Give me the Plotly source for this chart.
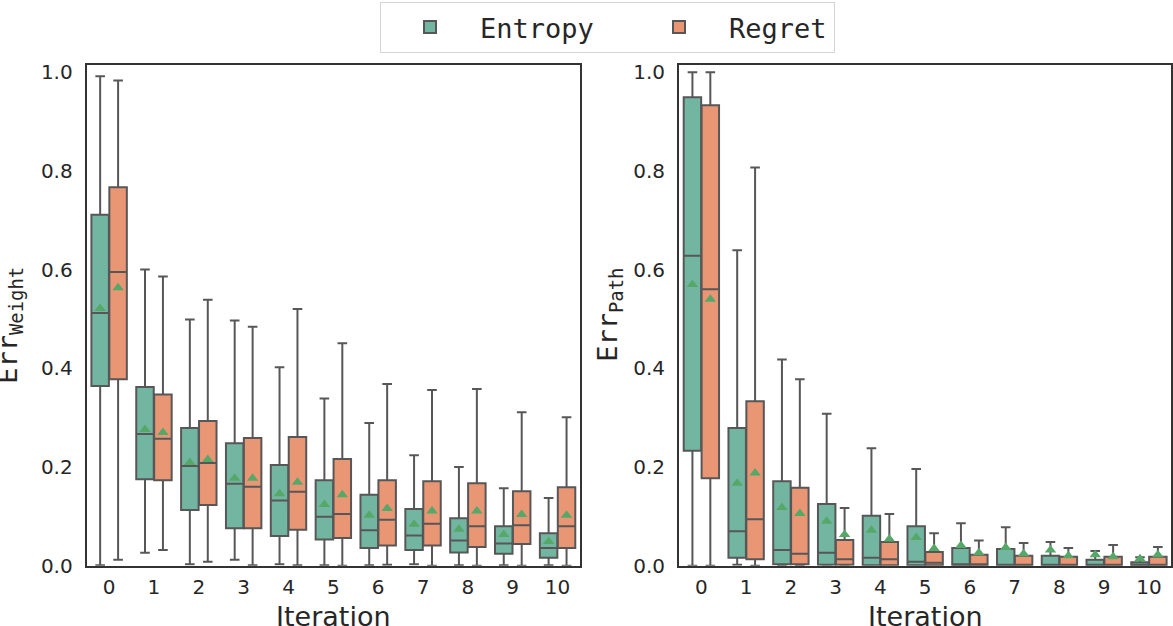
import plotly.graph_objects as go
from plotly.subplots import make_subplots

iterations = list(range(11))
hues = ["Entropy", "Regret"]

# Err_Weight (left panel)
w_ent_low = [0.001, 0.026, 0.003, 0.012, 0.003, 0.001, 0.001, 0.003, 0.001, 0.001, 0.001]
w_ent_q1 = [0.364, 0.175, 0.113, 0.076, 0.060, 0.053, 0.036, 0.032, 0.027, 0.024, 0.016]
w_ent_med = [0.512, 0.267, 0.202, 0.166, 0.132, 0.099, 0.072, 0.061, 0.051, 0.045, 0.036]
w_ent_q3 = [0.711, 0.362, 0.279, 0.248, 0.204, 0.173, 0.144, 0.115, 0.096, 0.080, 0.066]
w_ent_high = [0.992, 0.600, 0.499, 0.497, 0.402, 0.339, 0.289, 0.224, 0.200, 0.157, 0.137]
w_ent_mean = [0.521, 0.276, 0.209, 0.177, 0.146, 0.124, 0.102, 0.084, 0.074, 0.063, 0.049]

w_reg_low = [0.012, 0.032, 0.008, 0.001, 0.001, 0.0, 0.002, 0.0, 0.0, 0.0, 0.0]
w_reg_q1 = [0.378, 0.173, 0.123, 0.076, 0.073, 0.056, 0.041, 0.041, 0.038, 0.044, 0.036]
w_reg_med = [0.595, 0.257, 0.208, 0.160, 0.150, 0.105, 0.093, 0.085, 0.080, 0.082, 0.080]
w_reg_q3 = [0.767, 0.347, 0.293, 0.259, 0.261, 0.216, 0.173, 0.171, 0.167, 0.151, 0.159]
w_reg_high = [0.983, 0.586, 0.539, 0.484, 0.520, 0.451, 0.368, 0.356, 0.358, 0.311, 0.301]
w_reg_mean = [0.563, 0.270, 0.215, 0.177, 0.169, 0.144, 0.116, 0.111, 0.111, 0.104, 0.102]

# Err_Path (right panel)
p_ent_low = [0.0, 0.002, 0.001, 0.0, 0.0, 0.0, 0.0, 0.0, 0.0, 0.0, 0.0]
p_ent_q1 = [0.233, 0.016, 0.003, 0.002, 0.001, 0.001, 0.0, 0.0, 0.0, 0.0, 0.0]
p_ent_med = [0.628, 0.070, 0.032, 0.026, 0.016, 0.008, 0.003, 0.002, 0.001, 0.001, 0.001]
p_ent_q3 = [0.949, 0.279, 0.171, 0.125, 0.101, 0.080, 0.036, 0.034, 0.020, 0.012, 0.007]
p_ent_high = [1.0, 0.639, 0.418, 0.308, 0.238, 0.196, 0.086, 0.078, 0.048, 0.030, 0.017]
p_ent_mean = [0.570, 0.167, 0.118, 0.090, 0.072, 0.057, 0.041, 0.037, 0.032, 0.022, 0.014]

p_reg_low = [0.0, 0.0, 0.0, 0.0, 0.0, 0.0, 0.0, 0.0, 0.0, 0.0, 0.0]
p_reg_q1 = [0.177, 0.013, 0.003, 0.002, 0.001, 0.001, 0.0, 0.0, 0.0, 0.0, 0.0]
p_reg_med = [0.560, 0.094, 0.024, 0.013, 0.013, 0.006, 0.003, 0.002, 0.001, 0.001, 0.001]
p_reg_q3 = [0.933, 0.333, 0.158, 0.052, 0.048, 0.028, 0.022, 0.020, 0.018, 0.018, 0.018]
p_reg_high = [1.0, 0.807, 0.378, 0.117, 0.105, 0.066, 0.051, 0.046, 0.036, 0.042, 0.038]
p_reg_mean = [0.540, 0.188, 0.106, 0.063, 0.054, 0.035, 0.026, 0.024, 0.020, 0.018, 0.022]

panels = [
    {  # 左: Err_Weight
        "Entropy": (w_ent_low, w_ent_q1, w_ent_med, w_ent_q3, w_ent_high, w_ent_mean),
        "Regret": (w_reg_low, w_reg_q1, w_reg_med, w_reg_q3, w_reg_high, w_reg_mean),
    },
    {  # 右: Err_Path
        "Entropy": (p_ent_low, p_ent_q1, p_ent_med, p_ent_q3, p_ent_high, p_ent_mean),
        "Regret": (p_reg_low, p_reg_q1, p_reg_med, p_reg_q3, p_reg_high, p_reg_mean),
    },
]
y_titles = ["Err<sub>Weight</sub>", "Err<sub>Path</sub>"]
x_title = "Iteration"

W, H = 1173, 626
fill = {"Entropy": "#72b6a1", "Regret": "#e99675"}
offset = {"Entropy": -0.2, "Regret": 0.2}
legend_w = {"Entropy": 144, "Regret": 100}
line_gray = "#575757"
text_col = "#262626"

x_domains = [[86.7 / W, 580 / W], [679 / W, 1171.3 / W]]
y_domain = [1 - 565.7 / H, 1 - 65 / H]

fig = make_subplots(rows=1, cols=2)

for col, panel in enumerate(panels, start=1):
    for hue in hues:
        low, q1, med, q3, high, mean = panel[hue]
        xs = [i + offset[hue] for i in iterations]
        fig.add_trace(
            go.Box(
                x=xs,
                lowerfence=low,
                q1=q1,
                median=med,
                q3=q3,
                upperfence=high,
                width=0.39,
                whiskerwidth=0.55,
                fillcolor=fill[hue],
                line=dict(color=line_gray, width=2),
                boxpoints=False,
                name=hue,
                legendgroup=hue,
                legendwidth=legend_w[hue],
                showlegend=(col == 1),
            ),
            row=1,
            col=col,
        )
    # 平均値の三角マーカー
    for hue in hues:
        mean = panel[hue][5]
        xs = [i + offset[hue] for i in iterations]
        fig.add_trace(
            go.Scatter(
                x=xs,
                y=mean,
                mode="markers",
                marker=dict(symbol="triangle-up", size=10, color="#55a868"),
                showlegend=False,
                hoverinfo="skip",
            ),
            row=1,
            col=col,
        )

axis_common = dict(
    showline=True,
    mirror=True,
    linecolor="#333333",
    linewidth=2,
    showgrid=False,
    zeroline=False,
    ticks="",
    tickfont=dict(family="DejaVu Sans", size=20, color=text_col),
    automargin=False,
)

for col in (1, 2):
    fig.update_xaxes(
        axis_common,
        domain=x_domains[col - 1],
        range=[-0.5, 10.5],
        tickmode="array",
        tickvals=iterations,
        ticktext=[str(i) for i in iterations],
        ticklabelstandoff=2,
        row=1,
        col=col,
    )
    fig.update_yaxes(
        axis_common,
        domain=y_domain,
        range=[0, 1.0146],
        tickmode="array",
        tickvals=[0, 0.2, 0.4, 0.6, 0.8, 1.0],
        tickformat=".1f",
        ticklabelstandoff=8,
        row=1,
        col=col,
    )

# 軸タイトル (位置を細かく合わせるため注釈で配置)
y_mid = sum(y_domain) / 2
for col in (1, 2):
    xd = x_domains[col - 1]
    fig.add_annotation(
        text=x_title, xref="paper", yref="paper", x=(xd[0] + xd[1]) / 2, y=0,
        xanchor="center", yanchor="bottom", yshift=-8, showarrow=False,
        font=dict(family="DejaVu Sans", size=27, color=text_col),
    )
fig.add_annotation(
    text=y_titles[0], xref="paper", yref="paper", x=0, y=y_mid, xanchor="left", yanchor="middle",
    xshift=-10, yshift=-10, textangle=-90, showarrow=False,
    font=dict(family="DejaVu Sans Mono", size=27, color=text_col),
)
fig.add_annotation(
    text=y_titles[1], xref="paper", yref="paper", x=593 / W, y=y_mid, xanchor="left", yanchor="middle",
    xshift=-3, textangle=-90, showarrow=False,
    font=dict(family="DejaVu Sans Mono", size=27, color=text_col),
)

fig.update_layout(
    width=W,
    height=H,
    margin=dict(l=0, r=0, t=0, b=0),
    paper_bgcolor="white",
    plot_bgcolor="white",
    boxmode="overlay",
    legend=dict(
        orientation="h",
        x=380 / W,
        xanchor="left",
        y=1 - 2 / H,
        yanchor="top",
        font=dict(family="DejaVu Sans Mono", size=27, color=text_col),
        bordercolor="#d5d5d5",
        borderwidth=1,
        bgcolor="white",
        itemwidth=90,
    ),
)

fig.write_html(
    "out.html",
    config={"displayModeBar": False},
    post_script="document.body.style.margin='0';",
)
